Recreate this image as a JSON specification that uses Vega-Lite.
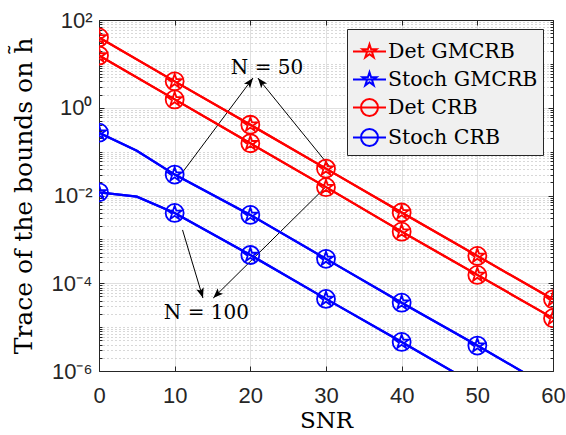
{
  "$schema": "https://vega.github.io/schema/vega-lite/v6.json",
  "width": 454,
  "height": 351,
  "autosize": {"type": "none"},
  "padding": {"left": 99, "top": 20, "right": 13, "bottom": 64},
  "background": "#ffffff",
  "datasets": {
    "bounds": [
      {"series": "Det GMCRB", "N": 50, "snr": 0, "value": 40},
      {"series": "Det GMCRB", "N": 50, "snr": 10, "value": 4.0},
      {"series": "Det GMCRB", "N": 50, "snr": 20, "value": 0.41},
      {"series": "Det GMCRB", "N": 50, "snr": 30, "value": 0.041},
      {"series": "Det GMCRB", "N": 50, "snr": 40, "value": 0.0041},
      {"series": "Det GMCRB", "N": 50, "snr": 50, "value": 0.00042},
      {"series": "Det GMCRB", "N": 50, "snr": 60, "value": 0.000043},
      {"series": "Det GMCRB", "N": 100, "snr": 0, "value": 15.5},
      {"series": "Det GMCRB", "N": 100, "snr": 10, "value": 1.55},
      {"series": "Det GMCRB", "N": 100, "snr": 20, "value": 0.155},
      {"series": "Det GMCRB", "N": 100, "snr": 30, "value": 0.0155},
      {"series": "Det GMCRB", "N": 100, "snr": 40, "value": 0.0015},
      {"series": "Det GMCRB", "N": 100, "snr": 50, "value": 0.000155},
      {"series": "Det GMCRB", "N": 100, "snr": 60, "value": 0.000016},
      {"series": "Det CRB", "N": 50, "snr": 0, "value": 40},
      {"series": "Det CRB", "N": 50, "snr": 10, "value": 4.0},
      {"series": "Det CRB", "N": 50, "snr": 20, "value": 0.41},
      {"series": "Det CRB", "N": 50, "snr": 30, "value": 0.041},
      {"series": "Det CRB", "N": 50, "snr": 40, "value": 0.0041},
      {"series": "Det CRB", "N": 50, "snr": 50, "value": 0.00042},
      {"series": "Det CRB", "N": 50, "snr": 60, "value": 0.000043},
      {"series": "Det CRB", "N": 100, "snr": 0, "value": 15.5},
      {"series": "Det CRB", "N": 100, "snr": 10, "value": 1.55},
      {"series": "Det CRB", "N": 100, "snr": 20, "value": 0.155},
      {"series": "Det CRB", "N": 100, "snr": 30, "value": 0.0155},
      {"series": "Det CRB", "N": 100, "snr": 40, "value": 0.0015},
      {"series": "Det CRB", "N": 100, "snr": 50, "value": 0.000155},
      {"series": "Det CRB", "N": 100, "snr": 60, "value": 0.000016},
      {"series": "Stoch GMCRB", "N": 50, "snr": 0, "value": 0.27},
      {"series": "Stoch GMCRB", "N": 50, "snr": 5, "value": 0.105},
      {"series": "Stoch GMCRB", "N": 50, "snr": 10, "value": 0.030},
      {"series": "Stoch GMCRB", "N": 50, "snr": 20, "value": 0.0036},
      {"series": "Stoch GMCRB", "N": 50, "snr": 30, "value": 0.00036},
      {"series": "Stoch GMCRB", "N": 50, "snr": 40, "value": 0.000036},
      {"series": "Stoch GMCRB", "N": 50, "snr": 50, "value": 0.0000038},
      {"series": "Stoch GMCRB", "N": 50, "snr": 60, "value": 0.00000038},
      {"series": "Stoch GMCRB", "N": 100, "snr": 0, "value": 0.0118},
      {"series": "Stoch GMCRB", "N": 100, "snr": 5, "value": 0.0094},
      {"series": "Stoch GMCRB", "N": 100, "snr": 10, "value": 0.0040},
      {"series": "Stoch GMCRB", "N": 100, "snr": 20, "value": 0.00044},
      {"series": "Stoch GMCRB", "N": 100, "snr": 30, "value": 0.000044},
      {"series": "Stoch GMCRB", "N": 100, "snr": 40, "value": 0.0000046},
      {"series": "Stoch GMCRB", "N": 100, "snr": 50, "value": 0.00000046},
      {"series": "Stoch GMCRB", "N": 100, "snr": 60, "value": 0.000000046},
      {"series": "Stoch CRB", "N": 50, "snr": 0, "value": 0.27},
      {"series": "Stoch CRB", "N": 50, "snr": 5, "value": 0.105},
      {"series": "Stoch CRB", "N": 50, "snr": 10, "value": 0.030},
      {"series": "Stoch CRB", "N": 50, "snr": 20, "value": 0.0036},
      {"series": "Stoch CRB", "N": 50, "snr": 30, "value": 0.00036},
      {"series": "Stoch CRB", "N": 50, "snr": 40, "value": 0.000036},
      {"series": "Stoch CRB", "N": 50, "snr": 50, "value": 0.0000038},
      {"series": "Stoch CRB", "N": 50, "snr": 60, "value": 0.00000038},
      {"series": "Stoch CRB", "N": 100, "snr": 0, "value": 0.0118},
      {"series": "Stoch CRB", "N": 100, "snr": 5, "value": 0.0094},
      {"series": "Stoch CRB", "N": 100, "snr": 10, "value": 0.0040},
      {"series": "Stoch CRB", "N": 100, "snr": 20, "value": 0.00044},
      {"series": "Stoch CRB", "N": 100, "snr": 30, "value": 0.000044},
      {"series": "Stoch CRB", "N": 100, "snr": 40, "value": 0.0000046},
      {"series": "Stoch CRB", "N": 100, "snr": 50, "value": 0.00000046},
      {"series": "Stoch CRB", "N": 100, "snr": 60, "value": 0.000000046}
    ],
    "arrows": [
      {"id": 1, "xStart": 10.97, "yStart": 0.0326, "xEnd": 20.35, "yEnd": 4.76},
      {"id": 2, "xStart": 30.53, "yStart": 0.0447, "xEnd": 21.0, "yEnd": 4.76},
      {"id": 3, "xStart": 11.04, "yStart": 0.00164, "xEnd": 13.74, "yEnd": 0.000046},
      {"id": 4, "xStart": 29.87, "yStart": 0.0151, "xEnd": 15.1, "yEnd": 0.000046}
    ],
    "notes": [
      {"x": 22.2, "y": 8.05, "label": "N = 50"},
      {"x": 14.2, "y": 0.000021, "label": "N = 100"}
    ]
  },
  "resolve": {"axis": {"x": "independent", "y": "independent"}},
  "layer": [
    {
      "data": {"name": "arrows"},
      "mark": {"type": "rule", "color": "#000000", "strokeWidth": 1, "clip": true},
      "encoding": {
        "x": {"field": "xStart", "type": "quantitative", "scale": {"domain": [0, 60], "nice": false, "zero": false}, "axis": null},
        "x2": {"field": "xEnd"},
        "y": {"field": "yStart", "type": "quantitative", "scale": {"type": "log", "domain": [0.000001, 100], "nice": false},
          "axis": {"orient": "left", "title": null, "labels": false, "domain": false, "ticks": true, "tickSize": -3, "tickColor": "#262626",
            "grid": true, "gridDash": [1, 3], "gridColor": "#b0b0b0", "gridWidth": 1,
            "values": [0.000002,0.000003,0.000004,0.000005,0.000006,0.000007,0.000008,0.000009,0.00001,0.00002,0.00003,0.00004,0.00005,0.00006,0.00007,0.00008,0.00009,0.0002,0.0003,0.0004,0.0005,0.0006,0.0007,0.0008,0.0009,0.001,0.002,0.003,0.004,0.005,0.006,0.007,0.008,0.009,0.02,0.03,0.04,0.05,0.06,0.07,0.08,0.09,0.1,0.2,0.3,0.4,0.5,0.6,0.7,0.8,0.9,2,3,4,5,6,7,8,9,10,20,30,40,50,60,70,80,90]}},
        "y2": {"field": "yEnd"}
      }
    },
    {
      "data": {"name": "bounds"},
      "mark": {"type": "line", "strokeWidth": 2.2, "clip": true},
      "encoding": {
        "x": {"field": "snr", "type": "quantitative", "scale": {"domain": [0, 60], "nice": false, "zero": false},
          "axis": {"orient": "bottom", "title": "SNR", "titleFontSize": 23, "values": [0, 10, 20, 30, 40, 50, 60], "tickSize": -5, "labelPadding": 19, "labelFlush": false, "titlePadding": 3,
            "grid": true, "gridColor": "#e0e0e0", "domainColor": "#262626", "tickColor": "#262626"}},
        "y": {"field": "value", "type": "quantitative", "scale": {"type": "log", "domain": [0.000001, 100], "nice": false},
          "axis": {"orient": "left", "title": "Trace of the bounds on h̃", "values": [0.000001, 0.0001, 0.01, 1, 100], "tickSize": -5, "labelPadding": 12, "labelFlush": false, "titlePadding": 15,
            "grid": true, "gridColor": "#e0e0e0", "domainColor": "#262626", "tickColor": "#262626",
            "labelExpr": "datum.value >= 50 ? '10²' : datum.value >= 0.5 ? '10⁰' : datum.value >= 0.005 ? '10⁻²' : datum.value >= 0.00005 ? '10⁻⁴' : '10⁻⁶'"}},
        "color": {"condition": {"test": "indexof(datum.series, 'Det') == 0", "value": "#ff0000"}, "value": "#0000ff"},
        "detail": [{"field": "series", "type": "nominal"}, {"field": "N", "type": "nominal"}]
      }
    },
    {
      "data": {"name": "bounds"},
      "transform": [{"filter": "datum.snr % 10 == 0 && indexof(datum.series, 'GMCRB') >= 0"}],
      "mark": {"type": "point", "filled": false, "strokeWidth": 1.8, "size": 324, "opacity": 1, "clip": true,
        "shape": "M0,-0.82L0.184,-0.253L0.78,-0.253L0.298,0.097L0.482,0.663L0,0.313L-0.482,0.663L-0.298,0.097L-0.78,-0.253L-0.184,-0.253Z"},
      "encoding": {
        "x": {"field": "snr", "type": "quantitative", "scale": {"domain": [0, 60], "nice": false, "zero": false},
          "axis": {"orient": "top", "title": null, "labels": false, "values": [0, 10, 20, 30, 40, 50, 60], "tickSize": -5, "grid": false, "domainColor": "#262626", "tickColor": "#262626"}},
        "y": {"field": "value", "type": "quantitative", "scale": {"type": "log", "domain": [0.000001, 100], "nice": false},
          "axis": {"orient": "right", "title": null, "labels": false, "values": [0.000001, 0.0001, 0.01, 1, 100], "tickSize": -5, "grid": false, "domainColor": "#262626", "tickColor": "#262626"}},
        "color": {"condition": {"test": "indexof(datum.series, 'Det') == 0", "value": "#ff0000"}, "value": "#0000ff"}
      }
    },
    {
      "data": {"name": "bounds"},
      "transform": [{"filter": "datum.snr % 10 == 0 && indexof(datum.series, 'GMCRB') < 0"}],
      "mark": {"type": "point", "filled": false, "strokeWidth": 1.8, "size": 324, "opacity": 1, "clip": true, "shape": "circle"},
      "encoding": {
        "x": {"field": "snr", "type": "quantitative", "scale": {"domain": [0, 60], "nice": false, "zero": false}, "axis": null},
        "y": {"field": "value", "type": "quantitative", "scale": {"type": "log", "domain": [0.000001, 100], "nice": false},
          "axis": {"orient": "right", "title": null, "labels": false, "domain": false, "grid": false, "tickSize": -3, "tickColor": "#262626",
            "values": [0.000002,0.000003,0.000004,0.000005,0.000006,0.000007,0.000008,0.000009,0.00001,0.00002,0.00003,0.00004,0.00005,0.00006,0.00007,0.00008,0.00009,0.0002,0.0003,0.0004,0.0005,0.0006,0.0007,0.0008,0.0009,0.001,0.002,0.003,0.004,0.005,0.006,0.007,0.008,0.009,0.02,0.03,0.04,0.05,0.06,0.07,0.08,0.09,0.1,0.2,0.3,0.4,0.5,0.6,0.7,0.8,0.9,2,3,4,5,6,7,8,9,10,20,30,40,50,60,70,80,90]}},
        "color": {"condition": {"test": "indexof(datum.series, 'Det') == 0", "value": "#ff0000"}, "value": "#0000ff"}
      }
    },
    {
      "data": {"name": "bounds"},
      "mark": {"type": "point", "filled": false, "opacity": 0, "size": 1089, "strokeWidth": 2},
      "encoding": {
        "x": {"field": "snr", "type": "quantitative", "scale": {"domain": [0, 60], "nice": false, "zero": false}, "axis": null},
        "y": {"field": "value", "type": "quantitative", "scale": {"type": "log", "domain": [0.000001, 100], "nice": false}, "axis": null},
        "color": {"field": "series", "type": "nominal", "scale": {"domain": ["Det GMCRB", "Stoch GMCRB", "Det CRB", "Stoch CRB"], "range": ["#ff0000", "#0000ff", "#ff0000", "#0000ff"]},
          "legend": {"title": null, "orient": "none", "legendX": 248, "legendY": 9, "labelFont": "DejaVu Serif", "labelFontSize": 20.5, "labelColor": "#000000", "labelOffset": 1, "rowPadding": -6}},
        "shape": {"field": "series", "type": "nominal", "scale": {"domain": ["Det GMCRB", "Stoch GMCRB", "Det CRB", "Stoch CRB"],
          "range": ["M-1,0L1,0M0,-0.436L0.098,-0.135L0.415,-0.135L0.158,0.051L0.256,0.353L0,0.167L-0.256,0.353L-0.158,0.051L-0.415,-0.135L-0.098,-0.135Z", "M-1,0L1,0M0,-0.436L0.098,-0.135L0.415,-0.135L0.158,0.051L0.256,0.353L0,0.167L-0.256,0.353L-0.158,0.051L-0.415,-0.135L-0.098,-0.135Z", "M-1,0L1,0M0.515,0A0.515,0.515,0,1,1,-0.515,0A0.515,0.515,0,1,1,0.515,0Z", "M-1,0L1,0M0.515,0A0.515,0.515,0,1,1,-0.515,0A0.515,0.515,0,1,1,0.515,0Z"]},
          "legend": {"title": null, "orient": "none", "legendX": 248, "legendY": 9, "labelFont": "DejaVu Serif", "labelFontSize": 20.5, "labelColor": "#000000", "labelOffset": 1, "rowPadding": -6}}
      }
    },
    {
      "data": {"name": "notes"},
      "mark": {"type": "text", "font": "DejaVu Serif", "fontSize": 20, "color": "#000000", "align": "center", "baseline": "middle"},
      "encoding": {
        "x": {"field": "x", "type": "quantitative", "scale": {"domain": [0, 60], "nice": false, "zero": false}, "axis": null},
        "y": {"field": "y", "type": "quantitative", "scale": {"type": "log", "domain": [0.000001, 100], "nice": false}, "axis": null},
        "text": {"field": "label", "type": "nominal"}
      }
    },
    {
      "data": {"name": "arrows"},
      "transform": [{"filter": "datum.id == 1"}],
      "mark": {"type": "point", "shape": "M0,0L-0.38,1L0,0.78L0.38,1Z", "angle": 36.8, "size": 400, "filled": true, "color": "#000000", "opacity": 1},
      "encoding": {
        "x": {"field": "xEnd", "type": "quantitative", "scale": {"domain": [0, 60], "nice": false, "zero": false}, "axis": null},
        "y": {"field": "yEnd", "type": "quantitative", "scale": {"type": "log", "domain": [0.000001, 100], "nice": false}, "axis": null}
      }
    },
    {
      "data": {"name": "arrows"},
      "transform": [{"filter": "datum.id == 2"}],
      "mark": {"type": "point", "shape": "M0,0L-0.38,1L0,0.78L0.38,1Z", "angle": 321, "size": 400, "filled": true, "color": "#000000", "opacity": 1},
      "encoding": {
        "x": {"field": "xEnd", "type": "quantitative", "scale": {"domain": [0, 60], "nice": false, "zero": false}, "axis": null},
        "y": {"field": "yEnd", "type": "quantitative", "scale": {"type": "log", "domain": [0.000001, 100], "nice": false}, "axis": null}
      }
    },
    {
      "data": {"name": "arrows"},
      "transform": [{"filter": "datum.id == 3"}],
      "mark": {"type": "point", "shape": "M0,0L-0.38,1L0,0.78L0.38,1Z", "angle": 162.9, "size": 400, "filled": true, "color": "#000000", "opacity": 1},
      "encoding": {
        "x": {"field": "xEnd", "type": "quantitative", "scale": {"domain": [0, 60], "nice": false, "zero": false}, "axis": null},
        "y": {"field": "yEnd", "type": "quantitative", "scale": {"type": "log", "domain": [0.000001, 100], "nice": false}, "axis": null}
      }
    },
    {
      "data": {"name": "arrows"},
      "transform": [{"filter": "datum.id == 4"}],
      "mark": {"type": "point", "shape": "M0,0L-0.38,1L0,0.78L0.38,1Z", "angle": 225.3, "size": 400, "filled": true, "color": "#000000", "opacity": 1},
      "encoding": {
        "x": {"field": "xEnd", "type": "quantitative", "scale": {"domain": [0, 60], "nice": false, "zero": false}, "axis": null},
        "y": {"field": "yEnd", "type": "quantitative", "scale": {"type": "log", "domain": [0.000001, 100], "nice": false}, "axis": null}
      }
    }
  ],
  "config": {
    "view": {"stroke": null},
    "axis": {"labelFont": "Liberation Sans", "labelFontSize": 22, "labelColor": "#262626", "titleFont": "DejaVu Serif", "titleFontSize": 25, "titleFontWeight": "normal", "titleColor": "#000000", "gridOpacity": 1},
    "legend": {"fillColor": "#f0f0f0", "strokeColor": "#262626", "padding": 5,
      "labelFont": "DejaVu Serif", "labelFontSize": 20.5, "labelColor": "#000000", "labelLimit": 400, "labelOffset": 1, "rowPadding": -6,
      "symbolSize": 1089, "symbolStrokeWidth": 2, "symbolOpacity": 1, "symbolFillColor": "transparent"}
  }
}
